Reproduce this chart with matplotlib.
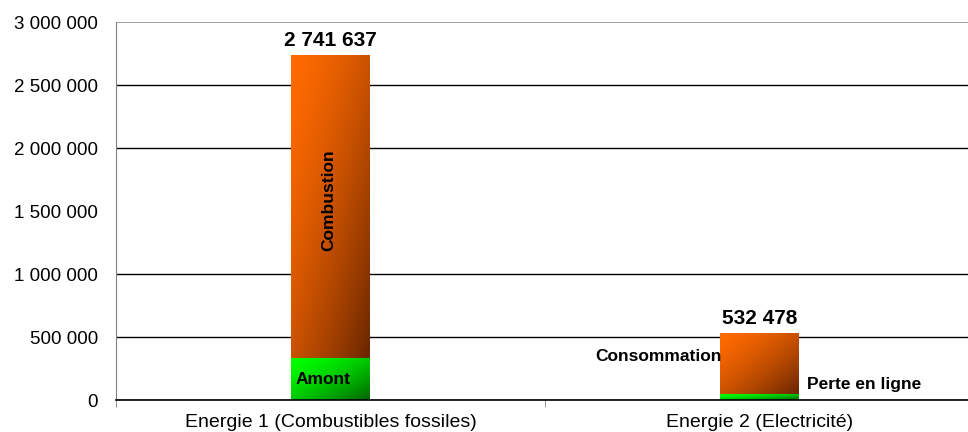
import numpy as np
import matplotlib
matplotlib.use("Agg")
from matplotlib import pyplot as plt
from matplotlib.ticker import FuncFormatter, FixedLocator
from matplotlib.colors import to_rgb

plt.rcParams['font.family'] = ['Liberation Sans', 'DejaVu Sans']

# donnees
categories = ["Energie 1 (Combustibles fossiles)", "Energie 2 (Electricité)"]
bas_vals = [330000, 45000]           # Amont / Perte en ligne
totaux = [2741637, 532478]
haut_vals = [t - b for t, b in zip(totaux, bas_vals)]  # Combustion / Consommation
noms_bas = ["Amont", "Perte en ligne"]
noms_haut = ["Combustion", "Consommation"]
yticks = [0, 500000, 1000000, 1500000, 2000000, 2500000, 3000000]
grille = [0, 500000, 1000000, 2000000, 2500000]   # pas de ligne a 1 500 000

orange = (to_rgb("#ff6a00"), to_rgb("#6a2600"))
vert = (to_rgb("#00ff00"), to_rgb("#006400"))


def degrade(ax, patch, couleurs):
    # remplissage en degrade diagonal (haut-gauche -> bas-droite)
    x, y = patch.get_x(), patch.get_y()
    w, h = patch.get_width(), patch.get_height()
    u = np.linspace(0, 1, 80)
    v = np.linspace(0, 1, 80)
    U, V = np.meshgrid(u, v)
    t = (np.clip((U + V) / 2, 0, 1) ** 1.5)[..., None]
    c0 = np.array(couleurs[0])
    c1 = np.array(couleurs[1])
    img = c0 * (1 - t) + c1 * t
    im = ax.imshow(img, extent=[x, x + w, y, y + h], origin='upper',
                   aspect='auto', zorder=3, interpolation='bilinear')
    im.set_clip_path(patch)


fig = plt.figure(figsize=(9.68, 4.32), dpi=100)
ax = fig.add_axes([0.12, 0.074, 0.886, 0.875])

xpos = np.arange(len(categories))
largeur = 0.184
b1 = ax.bar(xpos, bas_vals, largeur, color='none', edgecolor='none', zorder=3)
b2 = ax.bar(xpos, haut_vals, largeur, bottom=bas_vals, color='none',
            edgecolor='none', zorder=3)
for p in b1:
    degrade(ax, p, vert)
for p in b2:
    degrade(ax, p, orange)

ax.set_xlim(-0.5, 1.5)
ax.set_ylim(0, 3000000)

# lignes de quadrillage
for g in grille:
    ax.axhline(g, color='black', linewidth=1, zorder=1)
ax.axhline(3000000, color='#909090', linewidth=1.2, zorder=1)

# totaux au-dessus des barres
for i, t in enumerate(totaux):
    ax.text(xpos[i], t + 40000, f"{t:,}".replace(",", " "), ha='center',
            va='bottom', fontsize=15, fontweight='bold', zorder=5)

# etiquettes des segments
ax.text(xpos[0] - 0.005, bas_vals[0] + haut_vals[0] / 2 + 50000, noms_haut[0],
        rotation=90, ha='center', va='center', fontsize=12.5,
        fontweight='bold', zorder=5)
ax.text(xpos[0] - 0.018, bas_vals[0] / 2, noms_bas[0], ha='center',
        va='center', fontsize=12.5, fontweight='bold', zorder=5)
ax.text(xpos[1] - largeur / 2 + 0.003, bas_vals[1] + haut_vals[1] * 0.61,
        noms_haut[1], ha='right', va='center', fontsize=12.5,
        fontweight='bold', zorder=5)
ax.text(xpos[1] + largeur / 2 + 0.019, 125000, noms_bas[1], ha='left',
        va='center', fontsize=12.5, fontweight='bold', zorder=5)

# axes
ax.yaxis.set_major_locator(FixedLocator(yticks))
ax.yaxis.set_major_formatter(FuncFormatter(lambda v, p: f"{v:,.0f}".replace(",", " ")))
ax.tick_params(axis='y', which='major', length=0, labelsize=13.5, pad=13)
ax.yaxis.set_minor_locator(FixedLocator([v for v in yticks if v != 1500000]))
ax.tick_params(axis='y', which='minor', direction='out', length=6, width=1,
               color='#808080')

ax.set_xticks(xpos)
ax.set_xticklabels(categories)
ax.set_xticks([-0.5, 0.5, 1.5], minor=True)
ax.tick_params(axis='x', which='major', length=0, labelsize=14, pad=10)
ax.tick_params(axis='x', which='minor', direction='out', length=5,
               color='#808080')

for s in ['top', 'right']:
    ax.spines[s].set_visible(False)
ax.spines['left'].set_color('#808080')
ax.spines['bottom'].set_color('black')
ax.spines['bottom'].set_linewidth(1.2)
ax.spines['bottom'].set_zorder(4)

fig.savefig("out.png", dpi=100)
